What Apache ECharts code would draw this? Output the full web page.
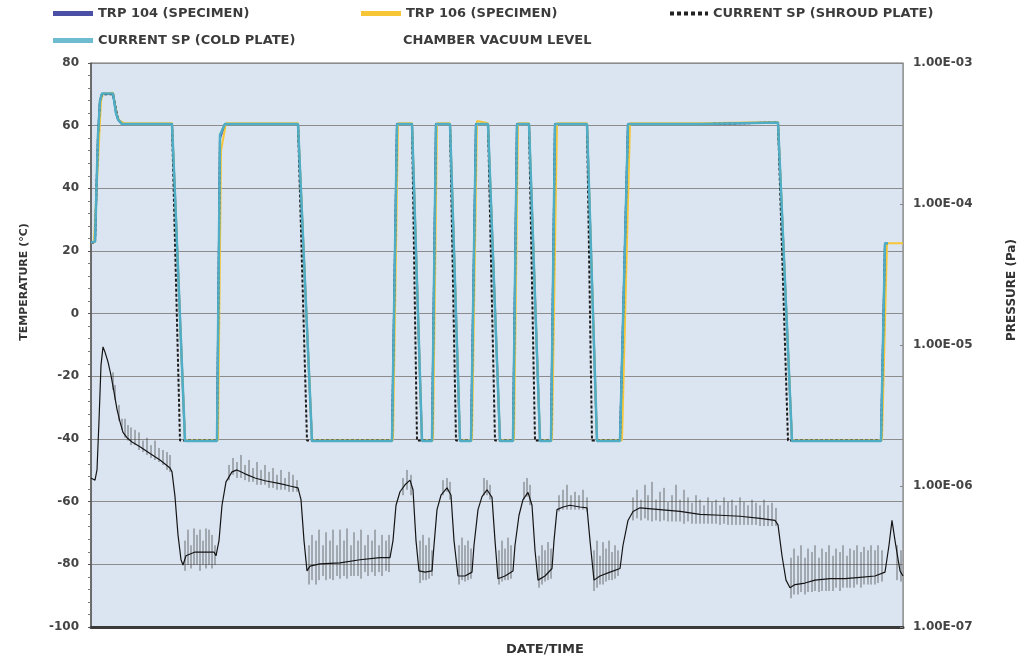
<!DOCTYPE html>
<html>
<head>
<meta charset="utf-8">
<script src="https://cdn.jsdelivr.net/npm/echarts@6/dist/echarts.min.js"></script>
<style>html,body{margin:0;padding:0;background:#fff}#c{width:1032px;height:660px}</style>
</head>
<body>
<div id="c"></div>
<script>
// ---- DATA (x = elapsed time units, left = temperature °C, right = pressure) ----
const seriesNames = ['TRP 104 (SPECIMEN)', 'TRP 106 (SPECIMEN)', 'CURRENT SP (SHROUD PLATE)', 'CURRENT SP (COLD PLATE)', 'CHAMBER VACUUM LEVEL'];
const tempAxis = { min: -100, max: 80, interval: 20 };
const pressTickValues = [1e-7, 1e-6, 1e-5, 1e-4, 1e-3];
const pressTickLabels = ['1.00E-07', '1.00E-06', '1.00E-05', '1.00E-04', '1.00E-03'];
const timeRange = [0, 812];

const coldPlate = [[0,22.7],[4,23.0],[7,57],[9,68],[11,70.3],[22,70.3],[25,64],[27,62],[31,60.5],[81,60.5],[84,38],[94,-40.6],[126,-40.6],[129,57],[134,60.5],[207,60.5],[221,-40.6],[301,-40.6],[306,60.5],[321,60.5],[331,-40.6],[341,-40.6],[345,60.5],[359,60.5],[369,-40.6],[380,-40.6],[385,60.5],[397,60.5],[409,-40.6],[422,-40.6],[426,60.5],[438,60.5],[449,-40.6],[460,-40.6],[464,60.5],[496,60.5],[506,-40.6],[529,-40.6],[537,60.5],[610,60.5],[612,61],[687,61],[701,-40.6],[790,-40.6],[794,22.5],[797,22.5]];
const trp104 = [[0,22.7],[4,23.0],[7,56],[9,68],[11,70.2],[22,70.2],[25,64],[27,62],[31,60.5],[81,60.5],[84,38],[94,-40.5],[126,-40.5],[129,56],[134,60.5],[207,60.5],[221,-40.5],[301,-40.5],[306,60.5],[321,60.5],[331,-40.5],[341,-40.5],[345,60.5],[359,60.5],[369,-40.5],[380,-40.5],[385,60.5],[397,60.5],[409,-40.5],[422,-40.5],[426,60.5],[438,60.5],[449,-40.5],[460,-40.5],[464,60.5],[496,60.5],[506,-40.5],[529,-40.5],[537,60.5],[610,60.5],[612,61],[687,61],[701,-40.5],[790,-40.5],[794,22.5],[797,22.5]];
const trp106 = [[0,22.7],[3,22.7],[5,23],[8,55],[10,68],[12,70.3],[22,70.5],[26,63],[29,61.5],[33,60.8],[81,60.8],[84,38],[94,-40.4],[127,-40.4],[130,52],[135,60.8],[207,60.8],[221,-40.4],[302,-40.4],[307,60.8],[321,60.8],[331,-40.4],[342,-40.4],[346,60.8],[359,60.8],[369,-40.4],[381,-40.4],[386,61.5],[397,60.8],[409,-40.4],[423,-40.4],[427,60.8],[438,60.8],[449,-40.4],[461,-40.4],[466,60.8],[496,60.8],[506,-40.4],[531,-40.4],[539,60.8],[610,60.8],[612,61.2],[687,61.2],[701,-40.4],[791,-40.4],[796,22.5],[812,22.5]];
const shroudPlate = [[0,22.7],[4,22.7],[7,57],[9,68],[11,70],[22,70],[27,62],[31,60.5],[81,60.5],[89,-40.5],[126,-40.5],[129,57],[134,60.5],[207,60.5],[216,-40.5],[301,-40.5],[306,60.5],[321,60.5],[326,-40.5],[341,-40.5],[345,60.5],[359,60.5],[365,-40.5],[380,-40.5],[385,60.5],[397,60.5],[404,-40.5],[422,-40.5],[426,60.5],[438,60.5],[444,-40.5],[460,-40.5],[464,60.5],[496,60.5],[501,-40.5],[529,-40.5],[537,60.5],[610,60.5],[612,61],[687,61],[697,-40.5],[790,-40.5],[794,22.5],[797,22.5]];

const pressureTrace = [[0,1.14e-6],[4,1.1e-6],[6,1.3e-6],[8,2.9e-6],[10,7.2e-6],[12,9.7e-6],[14,8.9e-6],[17,7.6e-6],[20,6.1e-6],[23,4.65e-6],[26,3.5e-6],[29,2.85e-6],[32,2.4e-6],[36,2.2e-6],[41,2.05e-6],[49,1.9e-6],[59,1.7e-6],[69,1.53e-6],[79,1.34e-6],[81,1.26e-6],[84,8.4e-7],[87,4.5e-7],[90,3.0e-7],[92,2.75e-7],[95,3.2e-7],[104,3.4e-7],[114,3.4e-7],[123,3.4e-7],[125,3.2e-7],[128,4.1e-7],[131,7.3e-7],[135,1.07e-6],[141,1.26e-6],[146,1.3e-6],[154,1.22e-6],[164,1.14e-6],[174,1.09e-6],[189,1.04e-6],[199,1.0e-6],[207,9.7e-7],[210,8.0e-7],[213,4.1e-7],[216,2.5e-7],[219,2.7e-7],[229,2.8e-7],[249,2.85e-7],[269,3.0e-7],[289,3.1e-7],[299,3.1e-7],[302,4.1e-7],[305,7.3e-7],[309,9.1e-7],[314,1.02e-6],[319,1.1e-6],[322,9.4e-7],[325,4.1e-7],[328,2.5e-7],[334,2.45e-7],[341,2.5e-7],[343,3.8e-7],[346,6.8e-7],[350,8.6e-7],[356,9.7e-7],[360,8.6e-7],[363,4.1e-7],[367,2.3e-7],[374,2.3e-7],[381,2.45e-7],[383,3.8e-7],[387,6.8e-7],[391,8.4e-7],[396,9.4e-7],[401,8.3e-7],[404,4.1e-7],[407,2.2e-7],[414,2.3e-7],[422,2.5e-7],[424,3.8e-7],[428,6.2e-7],[432,8.0e-7],[437,9.0e-7],[441,7.3e-7],[444,3.5e-7],[447,2.15e-7],[454,2.3e-7],[461,2.6e-7],[463,4.1e-7],[466,6.8e-7],[472,7.1e-7],[479,7.3e-7],[489,7.1e-7],[496,7.0e-7],[499,4.1e-7],[503,2.15e-7],[509,2.3e-7],[519,2.45e-7],[529,2.6e-7],[532,3.8e-7],[537,5.7e-7],[542,6.6e-7],[549,7.0e-7],[569,6.8e-7],[589,6.6e-7],[609,6.3e-7],[629,6.2e-7],[649,6.1e-7],[669,5.9e-7],[684,5.7e-7],[687,5.3e-7],[691,3.2e-7],[695,2.15e-7],[699,1.9e-7],[704,2.0e-7],[714,2.05e-7],[724,2.15e-7],[739,2.2e-7],[754,2.2e-7],[769,2.25e-7],[784,2.3e-7],[794,2.45e-7],[798,3.8e-7],[801,5.7e-7],[804,4.1e-7],[809,2.5e-7],[812,2.3e-7]];

// [time, spike top, spike bottom]
const pressureSpikes = [[22,6.4e-6,4.8e-6],[24,5.2e-6,4.1e-6],[28,3.75e-6,2.9e-6],[31,3.0e-6,2.5e-6],[34,3.0e-6,2.2e-6],[37,2.7e-6,2.1e-6],[40,2.6e-6,1.95e-6],[44,2.5e-6,1.95e-6],[48,2.4e-6,1.8e-6],[52,2.1e-6,1.74e-6],[56,2.2e-6,1.66e-6],[60,1.95e-6,1.58e-6],[64,2.1e-6,1.53e-6],[68,1.86e-6,1.48e-6],[72,1.8e-6,1.41e-6],[76,1.74e-6,1.3e-6],[79,1.66e-6,1.26e-6],
[94,4.1e-7,2.5e-7],[97,4.9e-7,2.75e-7],[100,3.8e-7,2.6e-7],[103,5.0e-7,2.75e-7],[106,4.5e-7,2.75e-7],[109,4.9e-7,2.5e-7],[112,4.1e-7,2.75e-7],[115,5.0e-7,2.6e-7],[118,4.9e-7,2.75e-7],[121,4.5e-7,2.6e-7],[124,3.8e-7,2.75e-7],
[138,1.41e-6,1.1e-6],[142,1.58e-6,1.2e-6],[146,1.48e-6,1.14e-6],[150,1.66e-6,1.14e-6],[154,1.41e-6,1.1e-6],[158,1.53e-6,1.07e-6],[162,1.34e-6,1.07e-6],[166,1.48e-6,1.02e-6],[170,1.3e-6,1.02e-6],[174,1.41e-6,1.02e-6],[178,1.26e-6,9.7e-7],[182,1.34e-6,9.7e-7],[186,1.2e-6,9.4e-7],[190,1.3e-6,9.4e-7],[194,1.14e-6,9.4e-7],[198,1.26e-6,9.1e-7],[202,1.2e-6,9.1e-7],[206,1.1e-6,9.1e-7],
[218,3.8e-7,2.0e-7],[221,4.5e-7,2.15e-7],[225,4.1e-7,2.0e-7],[228,4.9e-7,2.15e-7],[232,3.8e-7,2.3e-7],[235,4.7e-7,2.15e-7],[239,4.1e-7,2.2e-7],[242,4.9e-7,2.15e-7],[246,3.8e-7,2.3e-7],[249,4.9e-7,2.2e-7],[253,4.1e-7,2.3e-7],[256,5.0e-7,2.2e-7],[260,3.8e-7,2.3e-7],[263,4.7e-7,2.3e-7],[267,4.1e-7,2.3e-7],[270,4.9e-7,2.2e-7],[274,3.8e-7,2.45e-7],[277,4.5e-7,2.3e-7],[281,4.1e-7,2.45e-7],[284,4.9e-7,2.3e-7],[288,3.8e-7,2.45e-7],[291,4.5e-7,2.3e-7],[295,4.1e-7,2.5e-7],[298,4.5e-7,2.45e-7],
[312,1.14e-6,8.6e-7],[316,1.3e-6,9.4e-7],[320,1.2e-6,8.6e-7],[352,1.1e-6,8.6e-7],[356,1.14e-6,9.1e-7],[359,1.07e-6,8.0e-7],[393,1.14e-6,8.6e-7],[396,1.1e-6,8.6e-7],[399,1.02e-6,8.0e-7],[433,1.07e-6,8.0e-7],[436,1.14e-6,8.4e-7],[439,1.02e-6,7.3e-7],[468,8.6e-7,6.6e-7],[472,9.4e-7,6.8e-7],[476,1.02e-6,6.8e-7],[480,8.6e-7,6.8e-7],[484,9.1e-7,6.8e-7],[488,8.6e-7,6.8e-7],[492,9.4e-7,6.8e-7],[496,8.3e-7,6.6e-7],
[329,4.1e-7,2.05e-7],[332,4.5e-7,2.15e-7],[335,3.8e-7,2.15e-7],[338,4.3e-7,2.2e-7],[341,3.5e-7,2.3e-7],
[368,3.8e-7,2.0e-7],[371,4.3e-7,2.15e-7],[374,3.8e-7,2.1e-7],[377,4.1e-7,2.15e-7],[380,3.6e-7,2.2e-7],
[408,3.5e-7,2.0e-7],[411,4.1e-7,2.1e-7],[414,3.6e-7,2.15e-7],[417,4.3e-7,2.15e-7],[420,3.8e-7,2.2e-7],
[448,3.2e-7,1.9e-7],[451,3.8e-7,2.0e-7],[454,3.5e-7,2.1e-7],[457,4.0e-7,2.15e-7],[460,3.6e-7,2.2e-7],
[503,3.5e-7,1.8e-7],[506,4.1e-7,1.9e-7],[509,3.2e-7,2.0e-7],[512,4.0e-7,2.0e-7],[515,3.6e-7,2.1e-7],[518,4.1e-7,2.15e-7],[521,3.4e-7,2.15e-7],[524,3.8e-7,2.2e-7],[527,3.5e-7,2.3e-7],
[542,8.3e-7,5.7e-7],[546,9.4e-7,5.9e-7],[550,8.0e-7,5.7e-7],[554,1.02e-6,5.9e-7],[557,8.6e-7,5.7e-7],[561,1.07e-6,5.6e-7],[565,8.0e-7,5.7e-7],[569,9.1e-7,5.6e-7],[573,9.7e-7,5.7e-7],[577,7.7e-7,5.6e-7],[581,8.6e-7,5.6e-7],[585,1.02e-6,5.6e-7],[589,8.0e-7,5.6e-7],[593,9.4e-7,5.4e-7],[597,8.3e-7,5.6e-7],[601,7.6e-7,5.4e-7],[605,8.6e-7,5.4e-7],[609,8.0e-7,5.4e-7],[613,7.3e-7,5.4e-7],[617,8.3e-7,5.4e-7],[621,7.7e-7,5.4e-7],[625,8.0e-7,5.4e-7],[629,7.3e-7,5.3e-7],[633,8.3e-7,5.4e-7],[637,7.7e-7,5.3e-7],[641,8.0e-7,5.3e-7],[645,7.3e-7,5.3e-7],[649,8.3e-7,5.3e-7],[653,7.7e-7,5.3e-7],[657,7.3e-7,5.3e-7],[661,8.0e-7,5.3e-7],[665,7.6e-7,5.3e-7],[669,7.3e-7,5.2e-7],[673,8.0e-7,5.2e-7],[677,7.3e-7,5.2e-7],[681,7.6e-7,5.2e-7],[685,7.0e-7,5.2e-7],
[700,3.1e-7,1.6e-7],[703,3.6e-7,1.7e-7],[707,3.2e-7,1.7e-7],[710,3.8e-7,1.77e-7],[714,3.1e-7,1.7e-7],[717,3.6e-7,1.77e-7],[721,3.4e-7,1.77e-7],[724,3.8e-7,1.8e-7],[728,3.1e-7,1.77e-7],[731,3.6e-7,1.8e-7],[735,3.4e-7,1.8e-7],[738,3.8e-7,1.8e-7],[742,3.2e-7,1.8e-7],[745,3.6e-7,1.9e-7],[749,3.4e-7,1.8e-7],[752,3.8e-7,1.9e-7],[756,3.2e-7,1.9e-7],[759,3.6e-7,1.9e-7],[763,3.5e-7,1.9e-7],[766,3.8e-7,2.0e-7],[770,3.4e-7,1.9e-7],[773,3.7e-7,2.0e-7],[777,3.5e-7,2.0e-7],[780,3.8e-7,2.0e-7],[784,3.5e-7,2.0e-7],[787,3.8e-7,2.05e-7],[791,3.5e-7,2.1e-7],[806,3.8e-7,2.15e-7],[810,3.5e-7,2.1e-7]];

// ---- CHART ----
const FONT = 'DejaVu Sans';
const txt = { fontFamily: FONT, fontWeight: 'bold', fontSize: 13, color: '#3c3c3c' };
const chart = echarts.init(document.getElementById('c'), null, { renderer: 'canvas' });

function legendAt(name, left, top, extra) {
  return Object.assign({
    data: [name], left: left, top: top, padding: 0, itemGap: 0,
    itemWidth: 40, itemHeight: 5, textStyle: txt, selectedMode: false, icon: 'rect'
  }, extra || {});
}

const option = {
  animation: false,
  backgroundColor: '#ffffff',
  legend: [
    legendAt(seriesNames[0], 53, 7),
    legendAt(seriesNames[1], 361, 7),
    legendAt(seriesNames[2], 668, 7, { icon: null, itemWidth: 38, itemHeight: 8,
      itemStyle: { opacity: 0 },
      lineStyle: { width: 4, type: [4, 3], color: '#222' } }),
    legendAt(seriesNames[3], 53, 34),
    legendAt(seriesNames[4], 358, 34, { itemStyle: { opacity: 0 }, lineStyle: { opacity: 0 } })
  ],
  grid: { left: 91, right: 129, top: 63, bottom: 33, show: true,
          backgroundColor: '#dbe5f1', borderColor: '#707070', borderWidth: 1 },
  xAxis: {
    type: 'value', min: timeRange[0], max: timeRange[1],
    axisLine: { show: true, onZero: false, lineStyle: { color: '#3a3a3a', width: 3 } },
    axisTick: { show: false }, axisLabel: { show: false }, splitLine: { show: false }
  },
  yAxis: [
    {
      type: 'value', min: tempAxis.min, max: tempAxis.max, interval: tempAxis.interval, position: 'left',
      axisLine: { show: true, lineStyle: { color: '#555', width: 1.5 } },
      axisTick: { show: true, inside: false, length: 3, lineStyle: { color: '#555' } },
      minorTick: { show: true, splitNumber: 5, length: 3, lineStyle: { color: '#777' } },
      axisLabel: { margin: 12, fontFamily: FONT, fontWeight: 'bold', fontSize: 12, color: '#444' },
      splitLine: { show: true, lineStyle: { color: '#8c8c8c', width: 1.2 } }
    },
    {
      type: 'log', logBase: 10, min: pressTickValues[0], max: pressTickValues[pressTickValues.length - 1], position: 'right',
      axisLine: { show: true, lineStyle: { color: '#9a9a9a', width: 1 } },
      axisTick: { show: true, inside: true, length: 3, lineStyle: { color: '#888' } },
      axisLabel: { margin: 10, fontFamily: FONT, fontWeight: 'bold', fontSize: 12, color: '#444',
        formatter: v => { const i = pressTickValues.findIndex(t => Math.abs(Math.log10(t) - Math.log10(v)) < 1e-6); return i >= 0 ? pressTickLabels[i] : ''; } },
      splitLine: { show: false }
    }
  ],
  graphic: [
    { type: 'text', x: 24, y: 282, rotation: Math.PI / 2,
      style: { text: 'TEMPERATURE (°C)', font: 'bold 11px "DejaVu Sans"', fill: '#333', align: 'center', verticalAlign: 'middle' } },
    { type: 'text', x: 1012, y: 290, rotation: Math.PI / 2,
      style: { text: 'PRESSURE (Pa)', font: 'bold 12px "DejaVu Sans"', fill: '#333', align: 'center', verticalAlign: 'middle' } },
    { type: 'text', x: 545, y: 650,
      style: { text: 'DATE/TIME', font: 'bold 13px "DejaVu Sans"', fill: '#333', align: 'center', verticalAlign: 'middle' } }
  ],
  series: [
    {
      name: seriesNames[4], type: 'custom', yAxisIndex: 1, data: pressureSpikes, z: 1,
      encode: { x: 0, y: [1, 2] }, silent: true,
      itemStyle: { color: '#222' },
      renderItem: function (params, api) {
        const p1 = api.coord([api.value(0), api.value(1)]);
        const p2 = api.coord([api.value(0), api.value(2)]);
        return { type: 'line', shape: { x1: p1[0], y1: p1[1], x2: p2[0], y2: p2[1] },
                 style: { stroke: '#3a3a3a', lineWidth: 1, opacity: 0.7 } };
      }
    },
    {
      name: seriesNames[4], type: 'line', yAxisIndex: 1, data: pressureTrace, z: 2,
      showSymbol: false, symbol: 'none', lineStyle: { color: '#151515', width: 1.2 }, itemStyle: { color: '#151515' }
    },
    {
      name: seriesNames[0], type: 'line', data: trp104, z: 3, showSymbol: false, symbol: 'none',
      lineStyle: { color: '#4b4fa6', width: 2 }, itemStyle: { color: '#4b4fa6' }
    },
    {
      name: seriesNames[1], type: 'line', data: trp106, z: 4, showSymbol: false, symbol: 'none',
      lineStyle: { color: '#f6c637', width: 2 }, itemStyle: { color: '#f6c637' }
    },
    {
      name: seriesNames[2], type: 'line', data: shroudPlate, z: 5, showSymbol: false, symbol: 'none',
      lineStyle: { color: '#1c1c1c', width: 2, type: [3, 2] }, itemStyle: { color: '#1c1c1c' }
    },
    {
      name: seriesNames[3], type: 'line', data: coldPlate, z: 6, showSymbol: false, symbol: 'none',
      lineStyle: { color: '#4faec6', width: 2.5 }, itemStyle: { color: '#6fbbcf' }
    }
  ]
};
chart.setOption(option);
</script>
</body>
</html>
